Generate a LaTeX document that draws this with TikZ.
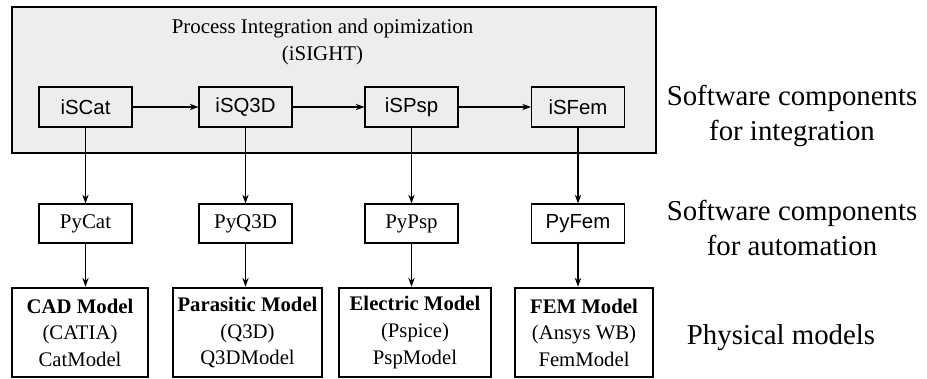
\documentclass[tikz,border=0pt]{standalone}
\usepackage{fontspec}
\setmainfont{Liberation Serif}
\newfontfamily\arialfont{Liberation Sans}
\usetikzlibrary{arrows.meta}

\begin{document}
\begin{tikzpicture}[
    frame/.style={draw, line width=1.5pt, fill=black!7},
    isbox/.style={draw, line width=0.6pt, fill=black!7, minimum height=0.8cm,
                  minimum width=1.86cm, font=\arialfont\fontsize{11.6}{14}\selectfont},
    pybox/.style={draw, line width=0.6pt, fill=white, minimum height=0.78cm,
                  minimum width=1.86cm, font=\fontsize{11.9}{14}\selectfont},
    model/.style={draw, line width=1.5pt, minimum height=1.78cm, align=center,
                  inner sep=1pt, font=\fontsize{11.8}{15.1}\selectfont},
    flow/.style={-{Stealth[length=5pt,width=3.6pt]}, line width=0.6pt},
    layer/.style={align=center, font=\fontsize{16.4}{19.9}\selectfont},
]
    \useasboundingbox (0,0) rectangle (18.54,-7.56);

    \draw[frame] (0.24,-0.14) rectangle (13.12,-3.06);
    \node[align=center, font=\fontsize{11.9}{15.4}\selectfont] (title) at (6.45,-0.83)
        {Process Integration and opimization\\(iSIGHT)};

    \node[isbox] (iscat) at (1.71,-2.14) {iSCat};
    \node[isbox] (isq3d) at (4.91,-2.14) {iSQ3D};
    \node[isbox] (ispsp) at (8.23,-2.14) {iSPsp};
    \node[isbox] (isfem) at (11.56,-2.14) {iSFem};
    \draw[flow] (iscat) -- (isq3d);
    \draw[flow] (isq3d) -- (ispsp);
    \draw[flow] (ispsp) -- (isfem);

    \node[pybox] (pycat) at (1.71,-4.47) {PyCat};
    \node[pybox] (pyq3d) at (4.91,-4.47) {PyQ3D};
    \node[pybox] (pypsp) at (8.23,-4.47) {PyPsp};
    \node[pybox, font=\arialfont\fontsize{11.6}{14}\selectfont] (pyfem) at (11.56,-4.47) {PyFem};

    \node[model, minimum width=2.72cm] (cad) at (1.6,-6.65)
        {\textbf{CAD Model}\\(CATIA)\\CatModel};
    \node[model, minimum width=2.98cm] (parasitic) at (4.95,-6.65)
        {\textbf{Parasitic Model}\\(Q3D)\\Q3DModel};
    \node[model, minimum width=3.04cm] (electric) at (8.3,-6.65)
        {\textbf{Electric Model}\\(Pspice)\\PspModel};
    \node[model, minimum width=2.76cm] (fem) at (11.68,-6.65)
        {\textbf{FEM Model}\\(Ansys WB)\\FemModel};

    \draw[flow] (iscat) -- (pycat);
    \draw[flow] (isq3d) -- (pyq3d);
    \draw[flow] (ispsp) -- (pypsp);
    \draw[flow] (isfem) -- (pyfem);
    \draw[flow] (pycat) -- (pycat |- cad.north);
    \draw[flow] (pyq3d) -- (pyq3d |- parasitic.north);
    \draw[flow] (pypsp) -- (pypsp |- electric.north);
    \draw[flow] (pyfem) -- (pyfem |- fem.north);

    \node[layer] (integration) at (15.84,-2.31) {Software components\\for integration};
    \node[layer] (automation) at (15.84,-4.56) {Software components\\for automation};
    \node[layer] (physical) at (15.62,-6.76) {Physical models};

\end{tikzpicture}
\end{document}
